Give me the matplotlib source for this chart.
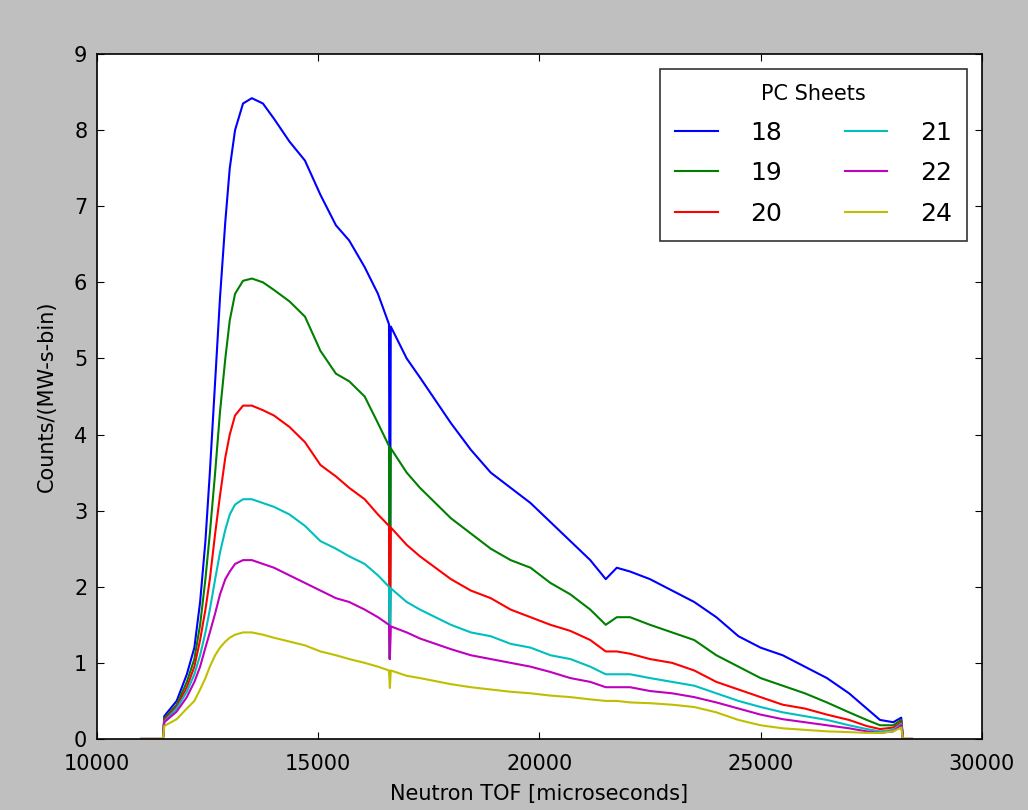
import matplotlib
matplotlib.use('Agg')
import matplotlib.pyplot as plt

# eje x comun (TOF en microsegundos)
tof = [11000, 11490, 11520, 11800, 12030, 12200, 12330, 12450, 12550, 12670,
       12780, 12900, 13000, 13120, 13300, 13500, 13750, 14000, 14350, 14700,
       15050, 15400, 15700, 16050, 16350, 16600, 16620, 16640, 17000, 17300,
       17650, 18000, 18450, 18900, 19350, 19800, 20250, 20700, 21150, 21500,
       21750, 22050, 22500, 23000, 23500, 24000, 24500, 25000, 25500, 26000,
       26500, 27000, 27400, 27700, 28000, 28180, 28220, 28420]

sheets = ['18', '19', '20', '21', '22', '24']

s18 = [0, 0, 0.3, 0.5, 0.85, 1.2, 1.8, 2.6, 3.5, 4.7,
       5.8, 6.8, 7.5, 8.0, 8.35, 8.42, 8.35, 8.15, 7.85, 7.6,
       7.15, 6.75, 6.55, 6.2, 5.85, 5.45, 1.05, 5.42, 5.0, 4.75,
       4.45, 4.15, 3.8, 3.5, 3.3, 3.1, 2.85, 2.6, 2.35, 2.1,
       2.25, 2.2, 2.1, 1.95, 1.8, 1.6, 1.35, 1.2, 1.1, 0.95,
       0.8, 0.6, 0.4, 0.25, 0.22, 0.28, 0, 0]
s19 = [0, 0, 0.27, 0.45, 0.75, 1.05, 1.5, 2.1, 2.7, 3.5,
       4.3, 5.0, 5.5, 5.85, 6.02, 6.05, 6.0, 5.9, 5.75, 5.55,
       5.1, 4.8, 4.7, 4.5, 4.15, 3.85, 1.05, 3.82, 3.5, 3.3,
       3.1, 2.9, 2.7, 2.5, 2.35, 2.25, 2.05, 1.9, 1.7, 1.5,
       1.6, 1.6, 1.5, 1.4, 1.3, 1.1, 0.95, 0.8, 0.7, 0.6,
       0.48, 0.35, 0.25, 0.18, 0.18, 0.25, 0, 0]
s20 = [0, 0, 0.25, 0.42, 0.68, 0.95, 1.3, 1.7, 2.1, 2.7,
       3.2, 3.7, 4.0, 4.25, 4.38, 4.38, 4.32, 4.25, 4.1, 3.9,
       3.6, 3.45, 3.3, 3.15, 2.95, 2.8, 1.05, 2.78, 2.55, 2.4,
       2.25, 2.1, 1.95, 1.85, 1.7, 1.6, 1.5, 1.42, 1.3, 1.15,
       1.15, 1.12, 1.05, 1.0, 0.9, 0.75, 0.65, 0.55, 0.45, 0.4,
       0.32, 0.25, 0.17, 0.13, 0.15, 0.22, 0, 0]
s21 = [0, 0, 0.23, 0.4, 0.62, 0.85, 1.1, 1.4, 1.7, 2.1,
       2.45, 2.75, 2.95, 3.08, 3.15, 3.15, 3.1, 3.05, 2.95, 2.8,
       2.6, 2.5, 2.4, 2.3, 2.15, 2.0, 1.05, 1.98, 1.8, 1.7,
       1.6, 1.5, 1.4, 1.35, 1.25, 1.2, 1.1, 1.05, 0.95, 0.85,
       0.85, 0.85, 0.8, 0.75, 0.7, 0.6, 0.5, 0.42, 0.35, 0.3,
       0.25, 0.18, 0.13, 0.1, 0.12, 0.2, 0, 0]
s22 = [0, 0, 0.22, 0.36, 0.55, 0.75, 0.95, 1.2, 1.4, 1.65,
       1.9, 2.1, 2.2, 2.3, 2.35, 2.35, 2.3, 2.25, 2.15, 2.05,
       1.95, 1.85, 1.8, 1.7, 1.6, 1.5, 1.05, 1.48, 1.4, 1.32,
       1.25, 1.18, 1.1, 1.05, 1.0, 0.95, 0.88, 0.8, 0.75, 0.68,
       0.68, 0.68, 0.63, 0.6, 0.55, 0.48, 0.4, 0.32, 0.26, 0.22,
       0.18, 0.14, 0.1, 0.08, 0.1, 0.18, 0, 0]
s24 = [0, 0, 0.17, 0.26, 0.4, 0.5, 0.65, 0.8, 0.95, 1.1,
       1.2, 1.28, 1.33, 1.37, 1.4, 1.4, 1.37, 1.33, 1.28, 1.23,
       1.15, 1.1, 1.05, 1.0, 0.95, 0.9, 0.67, 0.9, 0.83, 0.8,
       0.76, 0.72, 0.68, 0.65, 0.62, 0.6, 0.57, 0.55, 0.52, 0.5,
       0.5, 0.48, 0.47, 0.45, 0.42, 0.35, 0.25, 0.18, 0.14, 0.12,
       0.1, 0.09, 0.08, 0.08, 0.1, 0.15, 0, 0]

series = [s18, s19, s20, s21, s22, s24]
# colores estilo "classic"
colores = [(0, 0, 1), (0, 0.5, 0), (1, 0, 0), (0, 0.75, 0.75), (0.75, 0, 0.75), (0.75, 0.75, 0)]

fig = plt.figure(figsize=(10.28, 8.10), dpi=100, facecolor='0.75')
ax = fig.add_axes([0.0944, 0.0877, 0.8606, 0.8456])

for vals, lab, col in zip(series, sheets, colores):
    ax.plot(tof, vals, color=col, lw=1.5, label=lab)

ax.set_xlim(10000, 30000)
ax.set_ylim(0, 9)
ax.set_xticks([10000, 15000, 20000, 25000, 30000])
ax.set_yticks(range(10))
ax.tick_params(direction='in', top=True, right=True, labelsize=15, length=5)
ax.tick_params(axis='x', pad=11)
ax.tick_params(axis='y', pad=7)
for sp in ax.spines.values():
    sp.set_linewidth(1.2)

ax.set_xlabel('Neutron TOF [microseconds]', fontsize=15, labelpad=7)
ax.set_ylabel('Counts/(MW-s-bin)', fontsize=15, labelpad=12)

leg = ax.legend(title='PC Sheets', ncol=2, loc='upper right', fontsize=18,
                title_fontsize=15, fancybox=False, handlelength=1.7,
                handletextpad=1.3, columnspacing=2.5, borderaxespad=0.6,
                borderpad=0.6, labelspacing=0.66)
leg.get_frame().set_edgecolor('black')
leg.get_frame().set_linewidth(1.2)

fig.savefig('out.png', dpi=100, facecolor=fig.get_facecolor())
